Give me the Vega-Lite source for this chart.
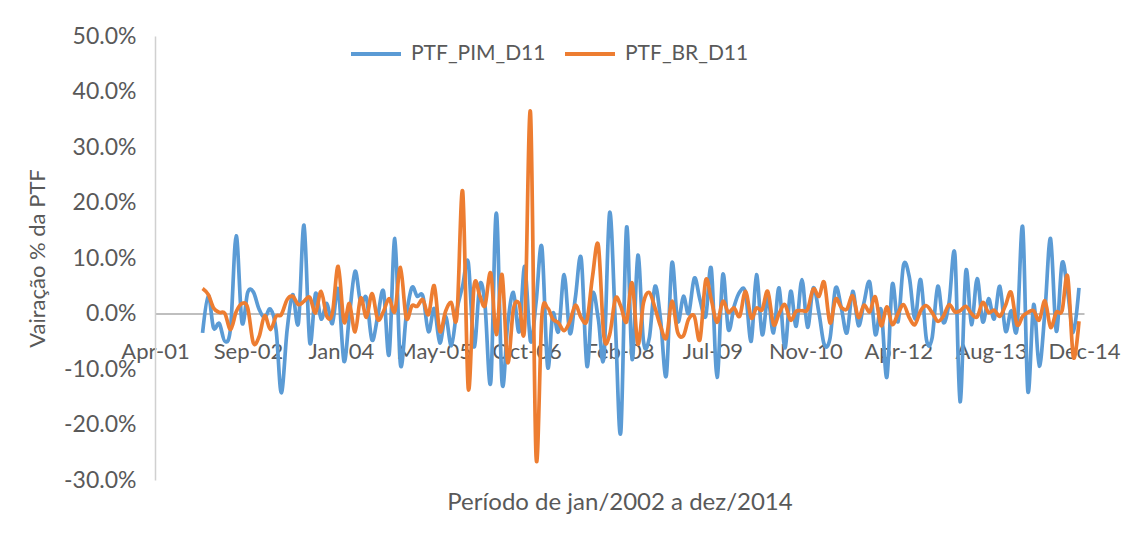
{
  "$schema": "https://vega.github.io/schema/vega-lite/v6.json",
  "width": 929,
  "height": 444,
  "autosize": {"type": "none"},
  "padding": {"left": 155, "top": 36, "right": 58, "bottom": 57},
  "background": "white",
  "config": {"view": {"stroke": null}, "font": "Lato"},
  "data": {"values": [
    {"d":"2002-01-01","PTF_PIM_D11":-3.5,"PTF_BR_D11":4.5},
    {"d":"2002-02-01","PTF_PIM_D11":3.2,"PTF_BR_D11":3.4},
    {"d":"2002-03-01","PTF_PIM_D11":-2.6,"PTF_BR_D11":1.0},
    {"d":"2002-04-01","PTF_PIM_D11":-1.8,"PTF_BR_D11":0.2},
    {"d":"2002-05-01","PTF_PIM_D11":-5.0,"PTF_BR_D11":0.0},
    {"d":"2002-06-01","PTF_PIM_D11":-2.5,"PTF_BR_D11":-2.9},
    {"d":"2002-07-01","PTF_PIM_D11":14.0,"PTF_BR_D11":0.3},
    {"d":"2002-08-01","PTF_PIM_D11":-1.6,"PTF_BR_D11":1.8},
    {"d":"2002-09-01","PTF_PIM_D11":3.8,"PTF_BR_D11":1.0},
    {"d":"2002-10-01","PTF_PIM_D11":3.9,"PTF_BR_D11":-5.3},
    {"d":"2002-11-01","PTF_PIM_D11":0.8,"PTF_BR_D11":-4.2},
    {"d":"2002-12-01","PTF_PIM_D11":-0.8,"PTF_BR_D11":-0.4},
    {"d":"2003-01-01","PTF_PIM_D11":0.8,"PTF_BR_D11":-2.9},
    {"d":"2003-02-01","PTF_PIM_D11":-3.0,"PTF_BR_D11":-0.5},
    {"d":"2003-03-01","PTF_PIM_D11":-14.3,"PTF_BR_D11":-0.2},
    {"d":"2003-04-01","PTF_PIM_D11":-3.0,"PTF_BR_D11":2.5},
    {"d":"2003-05-01","PTF_PIM_D11":3.4,"PTF_BR_D11":3.1},
    {"d":"2003-06-01","PTF_PIM_D11":-1.7,"PTF_BR_D11":1.6},
    {"d":"2003-07-01","PTF_PIM_D11":15.9,"PTF_BR_D11":2.2},
    {"d":"2003-08-01","PTF_PIM_D11":-5.2,"PTF_BR_D11":2.9},
    {"d":"2003-09-01","PTF_PIM_D11":3.6,"PTF_BR_D11":0.1},
    {"d":"2003-10-01","PTF_PIM_D11":-1.0,"PTF_BR_D11":4.0},
    {"d":"2003-11-01","PTF_PIM_D11":1.8,"PTF_BR_D11":-0.5},
    {"d":"2003-12-01","PTF_PIM_D11":-1.8,"PTF_BR_D11":0.1},
    {"d":"2004-01-01","PTF_PIM_D11":4.4,"PTF_BR_D11":8.5},
    {"d":"2004-02-01","PTF_PIM_D11":-8.6,"PTF_BR_D11":-1.5},
    {"d":"2004-03-01","PTF_PIM_D11":-0.5,"PTF_BR_D11":1.8},
    {"d":"2004-04-01","PTF_PIM_D11":7.6,"PTF_BR_D11":-3.3},
    {"d":"2004-05-01","PTF_PIM_D11":1.9,"PTF_BR_D11":2.8},
    {"d":"2004-06-01","PTF_PIM_D11":2.8,"PTF_BR_D11":-0.7},
    {"d":"2004-07-01","PTF_PIM_D11":-4.8,"PTF_BR_D11":3.6},
    {"d":"2004-08-01","PTF_PIM_D11":-0.5,"PTF_BR_D11":-1.1},
    {"d":"2004-09-01","PTF_PIM_D11":4.0,"PTF_BR_D11":0.4},
    {"d":"2004-10-01","PTF_PIM_D11":-7.4,"PTF_BR_D11":2.7},
    {"d":"2004-11-01","PTF_PIM_D11":13.5,"PTF_BR_D11":0.4},
    {"d":"2004-12-01","PTF_PIM_D11":-9.2,"PTF_BR_D11":8.3},
    {"d":"2005-01-01","PTF_PIM_D11":-0.5,"PTF_BR_D11":-0.8},
    {"d":"2005-02-01","PTF_PIM_D11":4.7,"PTF_BR_D11":1.4},
    {"d":"2005-03-01","PTF_PIM_D11":3.1,"PTF_BR_D11":1.3},
    {"d":"2005-04-01","PTF_PIM_D11":3.1,"PTF_BR_D11":2.5},
    {"d":"2005-05-01","PTF_PIM_D11":-3.3,"PTF_BR_D11":-0.2},
    {"d":"2005-06-01","PTF_PIM_D11":0.9,"PTF_BR_D11":5.0},
    {"d":"2005-07-01","PTF_PIM_D11":-5.3,"PTF_BR_D11":-3.2},
    {"d":"2005-08-01","PTF_PIM_D11":-0.5,"PTF_BR_D11":0.4},
    {"d":"2005-09-01","PTF_PIM_D11":-5.8,"PTF_BR_D11":2.0},
    {"d":"2005-10-01","PTF_PIM_D11":0.7,"PTF_BR_D11":-0.5},
    {"d":"2005-11-01","PTF_PIM_D11":5.0,"PTF_BR_D11":22.0},
    {"d":"2005-12-01","PTF_PIM_D11":9.2,"PTF_BR_D11":-13.5},
    {"d":"2006-01-01","PTF_PIM_D11":-6.0,"PTF_BR_D11":4.9},
    {"d":"2006-02-01","PTF_PIM_D11":5.2,"PTF_BR_D11":3.2},
    {"d":"2006-03-01","PTF_PIM_D11":1.5,"PTF_BR_D11":1.4},
    {"d":"2006-04-01","PTF_PIM_D11":-12.4,"PTF_BR_D11":7.3},
    {"d":"2006-05-01","PTF_PIM_D11":18.1,"PTF_BR_D11":-3.8},
    {"d":"2006-06-01","PTF_PIM_D11":-12.5,"PTF_BR_D11":7.0},
    {"d":"2006-07-01","PTF_PIM_D11":-2.0,"PTF_BR_D11":-8.8},
    {"d":"2006-08-01","PTF_PIM_D11":3.8,"PTF_BR_D11":0.8},
    {"d":"2006-09-01","PTF_PIM_D11":-3.3,"PTF_BR_D11":1.8},
    {"d":"2006-10-01","PTF_PIM_D11":8.5,"PTF_BR_D11":-2.2},
    {"d":"2006-11-01","PTF_PIM_D11":-5.0,"PTF_BR_D11":36.2},
    {"d":"2006-12-01","PTF_PIM_D11":2.0,"PTF_BR_D11":-25.8},
    {"d":"2007-01-01","PTF_PIM_D11":12.0,"PTF_BR_D11":-0.6},
    {"d":"2007-02-01","PTF_PIM_D11":-9.6,"PTF_BR_D11":1.0},
    {"d":"2007-03-01","PTF_PIM_D11":0.0,"PTF_BR_D11":-1.0},
    {"d":"2007-04-01","PTF_PIM_D11":-3.2,"PTF_BR_D11":-1.7},
    {"d":"2007-05-01","PTF_PIM_D11":7.0,"PTF_BR_D11":-3.1},
    {"d":"2007-06-01","PTF_PIM_D11":-3.6,"PTF_BR_D11":-1.4},
    {"d":"2007-07-01","PTF_PIM_D11":3.0,"PTF_BR_D11":1.5},
    {"d":"2007-08-01","PTF_PIM_D11":9.9,"PTF_BR_D11":-0.8},
    {"d":"2007-09-01","PTF_PIM_D11":-9.5,"PTF_BR_D11":-1.2},
    {"d":"2007-10-01","PTF_PIM_D11":3.5,"PTF_BR_D11":6.7},
    {"d":"2007-11-01","PTF_PIM_D11":-1.0,"PTF_BR_D11":12.3},
    {"d":"2007-12-01","PTF_PIM_D11":-8.0,"PTF_BR_D11":-4.1},
    {"d":"2008-01-01","PTF_PIM_D11":18.2,"PTF_BR_D11":-3.8},
    {"d":"2008-02-01","PTF_PIM_D11":-2.0,"PTF_BR_D11":2.7},
    {"d":"2008-03-01","PTF_PIM_D11":-21.4,"PTF_BR_D11":1.3},
    {"d":"2008-04-01","PTF_PIM_D11":15.5,"PTF_BR_D11":-1.5},
    {"d":"2008-05-01","PTF_PIM_D11":-8.3,"PTF_BR_D11":5.5},
    {"d":"2008-06-01","PTF_PIM_D11":10.5,"PTF_BR_D11":-5.5},
    {"d":"2008-07-01","PTF_PIM_D11":-5.0,"PTF_BR_D11":1.9},
    {"d":"2008-08-01","PTF_PIM_D11":-4.5,"PTF_BR_D11":3.8},
    {"d":"2008-09-01","PTF_PIM_D11":4.9,"PTF_BR_D11":1.0},
    {"d":"2008-10-01","PTF_PIM_D11":-1.1,"PTF_BR_D11":-2.3},
    {"d":"2008-11-01","PTF_PIM_D11":-11.2,"PTF_BR_D11":-4.4},
    {"d":"2008-12-01","PTF_PIM_D11":9.1,"PTF_BR_D11":2.2},
    {"d":"2009-01-01","PTF_PIM_D11":-1.4,"PTF_BR_D11":-3.4},
    {"d":"2009-02-01","PTF_PIM_D11":3.1,"PTF_BR_D11":-4.0},
    {"d":"2009-03-01","PTF_PIM_D11":0.0,"PTF_BR_D11":-1.0},
    {"d":"2009-04-01","PTF_PIM_D11":6.4,"PTF_BR_D11":-0.5},
    {"d":"2009-05-01","PTF_PIM_D11":2.5,"PTF_BR_D11":-4.7},
    {"d":"2009-06-01","PTF_PIM_D11":-0.5,"PTF_BR_D11":6.0},
    {"d":"2009-07-01","PTF_PIM_D11":8.1,"PTF_BR_D11":2.5},
    {"d":"2009-08-01","PTF_PIM_D11":-11.5,"PTF_BR_D11":-1.6},
    {"d":"2009-09-01","PTF_PIM_D11":7.0,"PTF_BR_D11":2.2},
    {"d":"2009-10-01","PTF_PIM_D11":-2.9,"PTF_BR_D11":0.2},
    {"d":"2009-11-01","PTF_PIM_D11":1.3,"PTF_BR_D11":1.0},
    {"d":"2009-12-01","PTF_PIM_D11":3.9,"PTF_BR_D11":-0.5},
    {"d":"2010-01-01","PTF_PIM_D11":3.8,"PTF_BR_D11":4.0},
    {"d":"2010-02-01","PTF_PIM_D11":-5.0,"PTF_BR_D11":-0.8},
    {"d":"2010-03-01","PTF_PIM_D11":7.0,"PTF_BR_D11":1.0},
    {"d":"2010-04-01","PTF_PIM_D11":-3.8,"PTF_BR_D11":0.7},
    {"d":"2010-05-01","PTF_PIM_D11":2.8,"PTF_BR_D11":4.0},
    {"d":"2010-06-01","PTF_PIM_D11":-3.5,"PTF_BR_D11":-2.0},
    {"d":"2010-07-01","PTF_PIM_D11":4.6,"PTF_BR_D11":0.0},
    {"d":"2010-08-01","PTF_PIM_D11":-6.2,"PTF_BR_D11":1.6},
    {"d":"2010-09-01","PTF_PIM_D11":4.0,"PTF_BR_D11":-1.2},
    {"d":"2010-10-01","PTF_PIM_D11":-2.3,"PTF_BR_D11":0.4},
    {"d":"2010-11-01","PTF_PIM_D11":6.1,"PTF_BR_D11":0.5},
    {"d":"2010-12-01","PTF_PIM_D11":-2.5,"PTF_BR_D11":0.7},
    {"d":"2011-01-01","PTF_PIM_D11":4.6,"PTF_BR_D11":4.4},
    {"d":"2011-02-01","PTF_PIM_D11":0.0,"PTF_BR_D11":3.1},
    {"d":"2011-03-01","PTF_PIM_D11":-5.6,"PTF_BR_D11":5.6},
    {"d":"2011-04-01","PTF_PIM_D11":-4.5,"PTF_BR_D11":-1.7},
    {"d":"2011-05-01","PTF_PIM_D11":4.6,"PTF_BR_D11":2.6},
    {"d":"2011-06-01","PTF_PIM_D11":1.0,"PTF_BR_D11":1.1},
    {"d":"2011-07-01","PTF_PIM_D11":-3.5,"PTF_BR_D11":0.8},
    {"d":"2011-08-01","PTF_PIM_D11":4.0,"PTF_BR_D11":3.2},
    {"d":"2011-09-01","PTF_PIM_D11":-2.2,"PTF_BR_D11":-0.7},
    {"d":"2011-10-01","PTF_PIM_D11":2.0,"PTF_BR_D11":1.5},
    {"d":"2011-11-01","PTF_PIM_D11":5.6,"PTF_BR_D11":0.3},
    {"d":"2011-12-01","PTF_PIM_D11":-3.8,"PTF_BR_D11":3.0},
    {"d":"2012-01-01","PTF_PIM_D11":0.7,"PTF_BR_D11":-2.2},
    {"d":"2012-02-01","PTF_PIM_D11":-11.5,"PTF_BR_D11":1.2},
    {"d":"2012-03-01","PTF_PIM_D11":5.2,"PTF_BR_D11":-2.0},
    {"d":"2012-04-01","PTF_PIM_D11":-1.5,"PTF_BR_D11":0.0},
    {"d":"2012-05-01","PTF_PIM_D11":8.8,"PTF_BR_D11":1.6},
    {"d":"2012-06-01","PTF_PIM_D11":6.5,"PTF_BR_D11":-0.8},
    {"d":"2012-07-01","PTF_PIM_D11":-1.0,"PTF_BR_D11":-2.0},
    {"d":"2012-08-01","PTF_PIM_D11":6.1,"PTF_BR_D11":0.5},
    {"d":"2012-09-01","PTF_PIM_D11":-4.7,"PTF_BR_D11":1.4},
    {"d":"2012-10-01","PTF_PIM_D11":-4.5,"PTF_BR_D11":0.2},
    {"d":"2012-11-01","PTF_PIM_D11":4.9,"PTF_BR_D11":-1.4},
    {"d":"2012-12-01","PTF_PIM_D11":-1.6,"PTF_BR_D11":-0.5},
    {"d":"2013-01-01","PTF_PIM_D11":2.0,"PTF_BR_D11":1.6},
    {"d":"2013-02-01","PTF_PIM_D11":10.7,"PTF_BR_D11":0.3},
    {"d":"2013-03-01","PTF_PIM_D11":-15.9,"PTF_BR_D11":0.5},
    {"d":"2013-04-01","PTF_PIM_D11":7.6,"PTF_BR_D11":1.3},
    {"d":"2013-05-01","PTF_PIM_D11":-2.0,"PTF_BR_D11":0.0},
    {"d":"2013-06-01","PTF_PIM_D11":6.3,"PTF_BR_D11":-0.6},
    {"d":"2013-07-01","PTF_PIM_D11":-1.5,"PTF_BR_D11":2.0},
    {"d":"2013-08-01","PTF_PIM_D11":2.7,"PTF_BR_D11":0.2},
    {"d":"2013-09-01","PTF_PIM_D11":-1.0,"PTF_BR_D11":0.6},
    {"d":"2013-10-01","PTF_PIM_D11":4.9,"PTF_BR_D11":-0.5},
    {"d":"2013-11-01","PTF_PIM_D11":-3.2,"PTF_BR_D11":1.5},
    {"d":"2013-12-01","PTF_PIM_D11":0.5,"PTF_BR_D11":3.8},
    {"d":"2014-01-01","PTF_PIM_D11":-2.9,"PTF_BR_D11":-2.0},
    {"d":"2014-02-01","PTF_PIM_D11":15.6,"PTF_BR_D11":-0.5},
    {"d":"2014-03-01","PTF_PIM_D11":-14.0,"PTF_BR_D11":0.2},
    {"d":"2014-04-01","PTF_PIM_D11":1.6,"PTF_BR_D11":0.5},
    {"d":"2014-05-01","PTF_PIM_D11":-9.5,"PTF_BR_D11":-1.2},
    {"d":"2014-06-01","PTF_PIM_D11":0.5,"PTF_BR_D11":2.3},
    {"d":"2014-07-01","PTF_PIM_D11":13.5,"PTF_BR_D11":-2.5},
    {"d":"2014-08-01","PTF_PIM_D11":-3.2,"PTF_BR_D11":0.2},
    {"d":"2014-09-01","PTF_PIM_D11":9.1,"PTF_BR_D11":0.5},
    {"d":"2014-10-01","PTF_PIM_D11":4.0,"PTF_BR_D11":6.7},
    {"d":"2014-11-01","PTF_PIM_D11":-3.4,"PTF_BR_D11":-7.9},
    {"d":"2014-12-01","PTF_PIM_D11":4.6,"PTF_BR_D11":-1.4}
  ]},
  "transform": [{"fold": ["PTF_PIM_D11", "PTF_BR_D11"], "as": ["s", "v"]}],
  "encoding": {
    "x": {
      "field": "d", "type": "temporal",
      "scale": {"type": "utc", "domain": [{"year": 2001, "month": 4, "date": 20, "utc": true}, {"year": 2014, "month": 12, "date": 28, "utc": true}]},
      "axis": {
        "title": "Período de jan/2002 a dez/2014",
        "values": [
          {"year": 2001, "month": 4, "date": 20, "utc": true},
          {"year": 2002, "month": 9, "date": 2, "utc": true},
          {"year": 2004, "month": 1, "date": 15, "utc": true},
          {"year": 2005, "month": 5, "date": 29, "utc": true},
          {"year": 2006, "month": 10, "date": 11, "utc": true},
          {"year": 2008, "month": 2, "date": 23, "utc": true},
          {"year": 2009, "month": 7, "date": 7, "utc": true},
          {"year": 2010, "month": 11, "date": 19, "utc": true},
          {"year": 2012, "month": 4, "date": 2, "utc": true},
          {"year": 2013, "month": 8, "date": 15, "utc": true},
          {"year": 2014, "month": 12, "date": 28, "utc": true}
        ],
        "labelExpr": "utcFormat(datum.value, '%b-%y')",
        "offset": -166.5,
        "grid": false, "ticks": false, "tickSize": 0,
        "domainColor": "#bfbfbf", "domainWidth": 2,
        "labelFontSize": 22, "labelColor": "#595959", "labelPadding": 28,
        "labelFlush": false, "labelOverlap": false, "labelBound": false,
        "titleFontSize": 24, "titleColor": "#595959", "titleFontWeight": "normal", "titlePadding": 128
      }
    },
    "y": {
      "field": "v", "type": "quantitative",
      "scale": {"domain": [-30, 50], "nice": false, "zero": false},
      "axis": {
        "title": "Vairação % da PTF",
        "values": [-30, -20, -10, 0, 10, 20, 30, 40, 50],
        "labelExpr": "replace(format(datum.value / 100, '.1%'), '\u2212', '-')",
        "grid": false, "ticks": false,
        "domainColor": "#d0d0d0", "domainWidth": 1.5,
        "labelFontSize": 23, "labelColor": "#595959", "labelPadding": 19,
        "titleFontSize": 22, "titleColor": "#595959", "titleFontWeight": "normal", "titlePadding": 14
      }
    },
    "color": {
      "field": "s", "type": "nominal",
      "scale": {"domain": ["PTF_PIM_D11", "PTF_BR_D11"], "range": ["#5B9BD5", "#ED7D31"]},
      "legend": {
        "title": null, "orient": "none", "direction": "horizontal",
        "legendX": 194, "legendY": -9, "padding": 0,
        "symbolType": "stroke", "symbolSize": 2500, "symbolStrokeWidth": 4,
        "labelFontSize": 21, "labelColor": "#595959", "labelOffset": 8,
        "columnPadding": 11
      }
    }
  },
  "layer": [
    {
      "transform": [{"filter": "datum.s === 'PTF_PIM_D11'"}],
      "mark": {"type": "line", "interpolate": "cardinal", "strokeWidth": 3.7}
    },
    {
      "transform": [{"filter": "datum.s === 'PTF_BR_D11'"}],
      "mark": {"type": "line", "interpolate": "cardinal", "strokeWidth": 3.7}
    }
  ]
}
